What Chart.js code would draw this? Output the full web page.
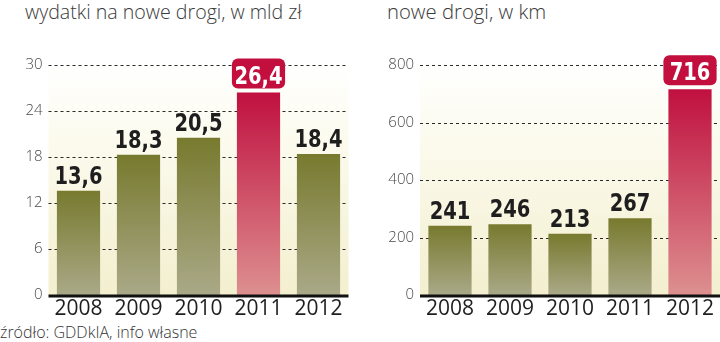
<!DOCTYPE html>
<html>
<head>
<meta charset="utf-8">
<script src="https://cdn.jsdelivr.net/npm/chart.js@4.4.1/dist/chart.umd.min.js"></script>
<style>
  html, body { margin:0; padding:0; background:#fff; }
  body { width:720px; height:342px; position:relative; overflow:hidden; font-family:"Open Sans", sans-serif; }
  .title { position:absolute; top:-3px; font-family:"Open Sans", sans-serif; font-weight:300; font-size:20.3px; color:#3a3a3a; white-space:nowrap; }
  .src { position:absolute; left:0; top:321px; font-family:"Open Sans", sans-serif; font-weight:300; font-size:16px; color:#333; white-space:nowrap; }
  canvas { position:absolute; top:0; }
</style>
</head>
<body>
<div class="title" style="left:25px;font-size:19.6px;top:-2px">wydatki na nowe drogi, w mld zł</div>
<div class="title" style="left:387px">nowe drogi, w km</div>
<div class="src">źródło: GDDkIA, info własne</div>
<div style="position:absolute;left:0;top:0;width:360px;height:342px"><canvas id="c1"></canvas></div>
<div style="position:absolute;left:360px;top:0;width:360px;height:342px"><canvas id="c2"></canvas></div>
<script>
const years = ["2008", "2009", "2010", "2011", "2012"];
const spending = [13.6, 18.3, 20.5, 26.4, 18.4];
const spendingTicks = [0, 6, 12, 18, 24, 30];
const spendingHighlight = 3;
const roads = [241, 246, 213, 267, 716];
const roadsTicks = [0, 200, 400, 600, 800];
const roadsHighlight = 4;

function fmt(v) { return String(v).replace('.', ','); }

function barFill(highlight) {
  return function(ctx) {
    const chart = ctx.chart;
    const ys = chart.scales.y;
    if (!chart.chartArea || !ys || ctx.parsed === undefined) return '#7b7b35';
    const top = ys.getPixelForValue(ctx.parsed.y);
    const bot = ys.getPixelForValue(0);
    const g = chart.ctx.createLinearGradient(0, top, 0, bot);
    if (ctx.dataIndex === highlight) {
      g.addColorStop(0, '#c0103f');
      g.addColorStop(1, '#dd9090');
    } else {
      g.addColorStop(0, '#777a2e');
      g.addColorStop(1, '#aaa988');
    }
    return g;
  };
}

const bgPlugin = {
  id: 'bgPlugin',
  beforeDraw(chart) {
    const a = chart.chartArea; const c = chart.ctx;
    const g = c.createLinearGradient(0, a.top, 0, a.bottom);
    g.addColorStop(0, 'rgba(255,255,255,1)');
    g.addColorStop(0.3, '#fcfbef');
    g.addColorStop(1, '#f3efcf');
    c.save(); c.fillStyle = g; c.fillRect(a.left, a.top, a.right - a.left, a.bottom - a.top); c.restore();
  },
  beforeDatasetsDraw(chart) {
    const a = chart.chartArea; const c = chart.ctx; const ys = chart.scales.y;
    c.save();
    c.strokeStyle = '#2a2a2a'; c.lineWidth = 1; c.setLineDash([3, 3]);
    ys.ticks.forEach(t => {
      if (t.value === 0) return;
      const y = Math.round(ys.getPixelForValue(t.value)) + 0.5;
      c.beginPath(); c.moveTo(a.left, y); c.lineTo(a.right, y); c.stroke();
    });
    c.restore();
  },
  afterDatasetsDraw(chart) {
    const a = chart.chartArea; const c = chart.ctx;
    c.save();
    c.strokeStyle = '#111'; c.lineWidth = 3;
    c.beginPath(); c.moveTo(a.left, a.bottom + 1); c.lineTo(a.right, a.bottom + 1); c.stroke();
    c.restore();
  }
};

const labelPlugin = {
  id: 'labelPlugin',
  afterDatasetsDraw(chart, args, opts) {
    const c = chart.ctx;
    const meta = chart.getDatasetMeta(0);
    const data = chart.data.datasets[0].data;
    meta.data.forEach((bar, i) => {
      const txt = fmt(data[i]);
      c.save();
      let baseY;
      if (i === opts.highlight) {
        const w = bar.width + 10, h = 30;
        const x = bar.x - w / 2, y = bar.y - 4 - h;
        c.fillStyle = '#c20f3e';
        c.beginPath(); c.roundRect(x, y, w, h, 6); c.fill();
        c.fillStyle = '#fff';
        baseY = y + h - 5;
      } else {
        c.fillStyle = '#1e1e1e';
        baseY = bar.y - 7;
      }
      c.translate(bar.x, baseY);
      c.scale(0.78, 1);
      c.font = 'bold 25px "DejaVu Sans", sans-serif';
      c.textAlign = 'center';
      c.textBaseline = 'alphabetic';
      c.fillText(txt, 0, 0);
      c.restore();
    });
  }
};

function makeChart(id, values, ticks, highlight, yWidth, rightPad) {
  const max = ticks[ticks.length - 1];
  return new Chart(document.getElementById(id), {
    type: 'bar',
    data: { labels: years, datasets: [{ data: values, backgroundColor: barFill(highlight), borderWidth: 0, barPercentage: 0.72, categoryPercentage: 1 }] },
    plugins: [bgPlugin, labelPlugin],
    options: {
      responsive: true, maintainAspectRatio: false, animation: false,
      layout: { padding: { top: 65, right: rightPad, left: 0, bottom: 0 } },
      plugins: { legend: { display: false }, tooltip: { enabled: false }, title: { display: false }, labelPlugin: { highlight: highlight } },
      scales: {
        x: {
          grid: { display: false, drawTicks: false },
          border: { display: false },
          ticks: { padding: 1, color: '#1e1e1e', font: { family: '"Open Sans", sans-serif', size: 21 } },
          afterFit(s) { s.height = 47; }
        },
        y: {
          min: 0, max: max,
          afterBuildTicks(s) { s.ticks = ticks.map(v => ({ value: v })); },
          grid: { display: false, drawTicks: false },
          border: { display: false },
          ticks: { padding: 6, color: '#4a4a4a', font: { family: '"Open Sans", sans-serif', size: 15, weight: 300 } },
          afterFit(s) { s.width = yWidth; }
        }
      }
    }
  });
}

const c1 = makeChart('c1', spending, spendingTicks, spendingHighlight, 48.5, 11.5);
const c2 = makeChart('c2', roads, roadsTicks, roadsHighlight, 60, 0);
</script>
</body>
</html>
